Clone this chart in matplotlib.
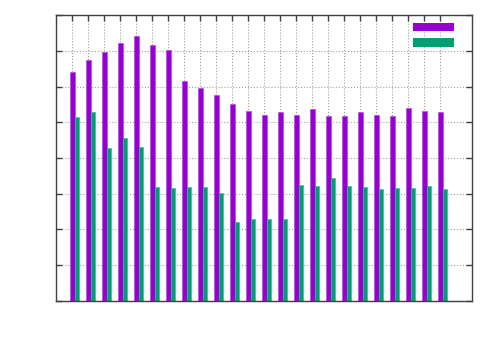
import numpy as np
import matplotlib.pyplot as plt
from matplotlib.patches import Patch

# values (no labels in the original)
groups = list(range(24))
series_a = [6.41, 6.76, 6.96, 7.22, 7.42, 7.17, 7.04, 6.15, 5.96, 5.78, 5.51, 5.33,
            5.20, 5.30, 5.20, 5.37, 5.17, 5.17, 5.28, 5.20, 5.17, 5.40, 5.31, 5.29]
series_b = [5.16, 5.28, 4.28, 4.55, 4.30, 3.19, 3.15, 3.19, 3.19, 3.03, 2.19, 2.30,
            2.30, 2.30, 3.25, 3.20, 3.45, 3.20, 3.18, 3.12, 3.17, 3.15, 3.20, 3.13]

purple = '#9400d3'
green = '#009e73'

fig = plt.figure(figsize=(5, 3.5), dpi=100)
ax = fig.add_axes([0.112, 0.1414, 0.832, 0.8146])

x = np.array(groups)
ax.bar(x + 0.04, series_a, width=0.29, color=purple, edgecolor='#b050e0', linewidth=0.5)
ax.bar(x + 0.31, series_b, width=0.28, color=green, edgecolor='#40b890', linewidth=0.5)

ax.set_xlim(-1, 25)
ax.set_ylim(0, 8)
ax.set_xticks(groups)
ax.set_yticks(range(0, 9))
ax.set_xticklabels([])
ax.set_yticklabels([])
ax.tick_params(direction='in', length=4, width=1, top=True, right=True, color='#404040')
ax.grid(True, linestyle=':', color='#a0a0a0', linewidth=0.8)
ax.set_axisbelow(True)
for s in ax.spines.values():
    s.set_color('#404040')
    s.set_linewidth(1)

handles = [Patch(facecolor=purple), Patch(facecolor=green)]
ax.legend(handles, ['', ''], loc='upper right', frameon=False,
          handlelength=2.95, handleheight=0.58, labelspacing=0.1,
          handletextpad=0, borderpad=0, borderaxespad=0,
          bbox_to_anchor=(0.908, 0.94), bbox_transform=fig.transFigure)

fig.savefig('out.png', dpi=100)
